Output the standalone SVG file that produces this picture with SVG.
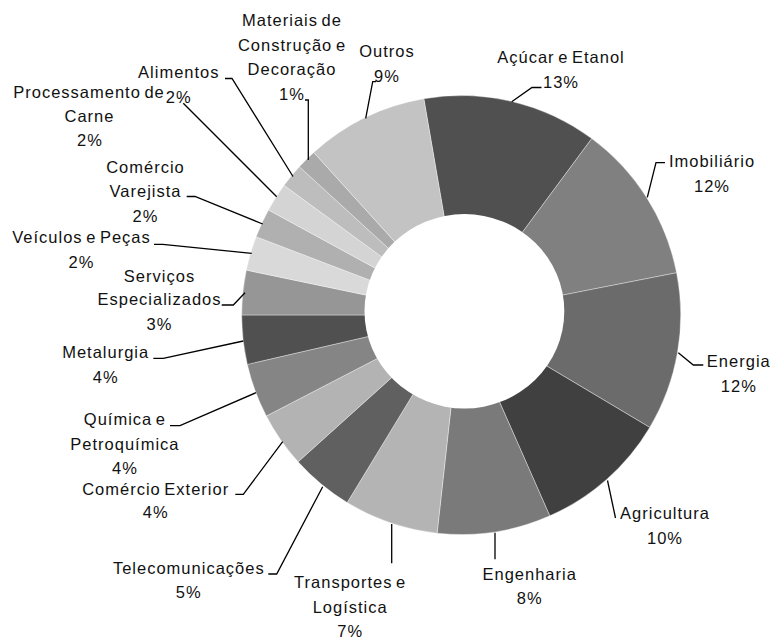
<svg xmlns="http://www.w3.org/2000/svg" width="772" height="638" viewBox="0 0 772 638">
<style>
text{font-family:"Liberation Sans",Arial,sans-serif;font-size:16.5px;letter-spacing:1px;word-spacing:-2px;fill:#111;text-anchor:middle}
.s{stroke:#fff;stroke-width:0.6;stroke-opacity:0.6}
.l{fill:none;stroke:#000;stroke-width:1.3}
</style>
<rect width="772" height="638" fill="#fff"/>
<g id="slices">
<g id="acucar"><path class="s" fill="#505050" d="M461.2,315 L423.84,98.70 A219.5,219.5 0 0 1 591.76,138.54 Z"/></g>
<g id="imobiliario"><path class="s" fill="#808080" d="M461.2,315 L591.76,138.54 A219.5,219.5 0 0 1 676.60,272.75 Z"/></g>
<g id="energia"><path class="s" fill="#6b6b6b" d="M461.2,315 L676.60,272.75 A219.5,219.5 0 0 1 649.75,427.38 Z"/></g>
<g id="agricultura"><path class="s" fill="#404040" d="M461.2,315 L649.75,427.38 A219.5,219.5 0 0 1 549.77,515.84 Z"/></g>
<g id="engenharia"><path class="s" fill="#7a7a7a" d="M461.2,315 L549.77,515.84 A219.5,219.5 0 0 1 437.12,533.18 Z"/></g>
<g id="transportes"><path class="s" fill="#b4b4b4" d="M461.2,315 L437.12,533.18 A219.5,219.5 0 0 1 347.17,502.56 Z"/></g>
<g id="telecom"><path class="s" fill="#606060" d="M461.2,315 L347.17,502.56 A219.5,219.5 0 0 1 298.09,461.87 Z"/></g>
<g id="comercio-exterior"><path class="s" fill="#b3b3b3" d="M461.2,315 L298.09,461.87 A219.5,219.5 0 0 1 266.33,416.01 Z"/></g>
<g id="quimica"><path class="s" fill="#858585" d="M461.2,315 L266.33,416.01 A219.5,219.5 0 0 1 247.32,364.39 Z"/></g>
<g id="metalurgia"><path class="s" fill="#505050" d="M461.2,315 L247.32,364.39 A219.5,219.5 0 0 1 241.70,315 Z"/></g>
<g id="servicos"><path class="s" fill="#969696" d="M461.2,315 L241.70,315 A219.5,219.5 0 0 1 246.33,270.11 Z"/></g>
<g id="veiculos"><path class="s" fill="#d9d9d9" d="M461.2,315 L246.33,270.11 A219.5,219.5 0 0 1 256.14,236.70 Z"/></g>
<g id="comercio-varejista"><path class="s" fill="#b0b0b0" d="M461.2,315 L256.14,236.70 A219.5,219.5 0 0 1 268.48,209.93 Z"/></g>
<g id="processamento"><path class="s" fill="#d4d4d4" d="M461.2,315 L268.48,209.93 A219.5,219.5 0 0 1 284.06,185.36 Z"/></g>
<g id="alimentos"><path class="s" fill="#bdbdbd" d="M461.2,315 L284.06,185.36 A219.5,219.5 0 0 1 299.36,166.71 Z"/></g>
<g id="materiais"><path class="s" fill="#aaaaaa" d="M461.2,315 L299.36,166.71 A219.5,219.5 0 0 1 313.76,152.39 Z"/></g>
<g id="outros"><path class="s" fill="#c3c3c3" d="M461.2,315 L313.76,152.39 A219.5,219.5 0 0 1 423.84,98.70 Z"/></g>
<ellipse id="hole" cx="464.4" cy="311.3" rx="99.9" ry="97.2" fill="#fff"/>
</g>
<g id="connectors">
<path class="l" d="M541.5,87.5 H532 L511.7,101.7"/>
<path class="l" d="M665,162.7 H656 L647.3,197.3"/>
<path class="l" d="M703.3,365 H693.3 L678.3,352.7"/>
<path class="l" d="M607.5,480.5 L615.5,518"/>
<path class="l" d="M495,532.7 V559.3"/>
<path class="l" d="M391.7,524 V563.3"/>
<path class="l" d="M268.3,574 H276.7 L322.7,486.7"/>
<path class="l" d="M235.3,494.3 H243.3 L282.7,441.7"/>
<path class="l" d="M170,425.7 H180 L256,392.7"/>
<path class="l" d="M153.3,358.3 H163.3 L243.3,341"/>
<path class="l" d="M221.7,305 H233.3 L245,292.7"/>
<path class="l" d="M154,244.3 H162.7 L251.7,253.3"/>
<path class="l" d="M186.7,196.5 H195 L262.7,224"/>
<path class="l" d="M183.3,103.3 L276.7,196.7"/>
<path class="l" d="M225,78.5 H232 L293,176.5"/>
<path class="l" d="M305,100 H308.3 V160"/>
<path class="l" d="M376,81.7 H372.7 L365.7,118.3"/>
</g>
<g id="labels">
<g id="lbl-acucar"><text x="561" y="63.3">Açúcar e Etanol</text><text x="561" y="88.3">13%</text></g>
<g id="lbl-imobiliario"><text x="712" y="166.7">Imobiliário</text><text x="712" y="191.7">12%</text></g>
<g id="lbl-energia"><text x="738.8" y="366.7">Energia</text><text x="738.8" y="391.7">12%</text></g>
<g id="lbl-agricultura"><text x="665" y="519.3">Agricultura</text><text x="665" y="544">10%</text></g>
<g id="lbl-engenharia"><text x="529.7" y="580">Engenharia</text><text x="529.7" y="604">8%</text></g>
<g id="lbl-transportes"><text x="350.2" y="588.3">Transportes e</text><text x="350.2" y="612.7">Logística</text><text x="350.2" y="636.5">7%</text></g>
<g id="lbl-telecom"><text x="188.8" y="574">Telecomunicações</text><text x="188.8" y="597.7">5%</text></g>
<g id="lbl-comercio-exterior"><text x="155.7" y="495">Comércio Exterior</text><text x="155.7" y="518.3">4%</text></g>
<g id="lbl-quimica"><text x="124.9" y="425">Química e</text><text x="124.9" y="450">Petroquímica</text><text x="124.9" y="474">4%</text></g>
<g id="lbl-metalurgia"><text x="105.7" y="358.3">Metalurgia</text><text x="105.7" y="382.7">4%</text></g>
<g id="lbl-servicos"><text x="159.5" y="281.7">Serviços</text><text x="159.5" y="305">Especializados</text><text x="159.5" y="330">3%</text></g>
<g id="lbl-veiculos"><text x="81.5" y="243.3">Veículos e Peças</text><text x="81.5" y="268.3">2%</text></g>
<g id="lbl-comercio-varejista"><text x="145.5" y="173.3">Comércio</text><text x="145.5" y="197">Varejista</text><text x="145.5" y="221.7">2%</text></g>
<g id="lbl-processamento"><text x="89" y="97.5">Processamento de</text><text x="89.5" y="122">Carne</text><text x="90" y="146">2%</text></g>
<g id="lbl-alimentos"><text x="178.8" y="78.3">Alimentos</text><text x="178.8" y="103">2%</text></g>
<g id="lbl-materiais"><text x="292" y="26">Materiais de</text><text x="292" y="50.5">Construção e</text><text x="292" y="75">Decoração</text><text x="292" y="100">1%</text></g>
<g id="lbl-outros"><text x="387" y="57">Outros</text><text x="387" y="81.7">9%</text></g>
</g>
</svg>
